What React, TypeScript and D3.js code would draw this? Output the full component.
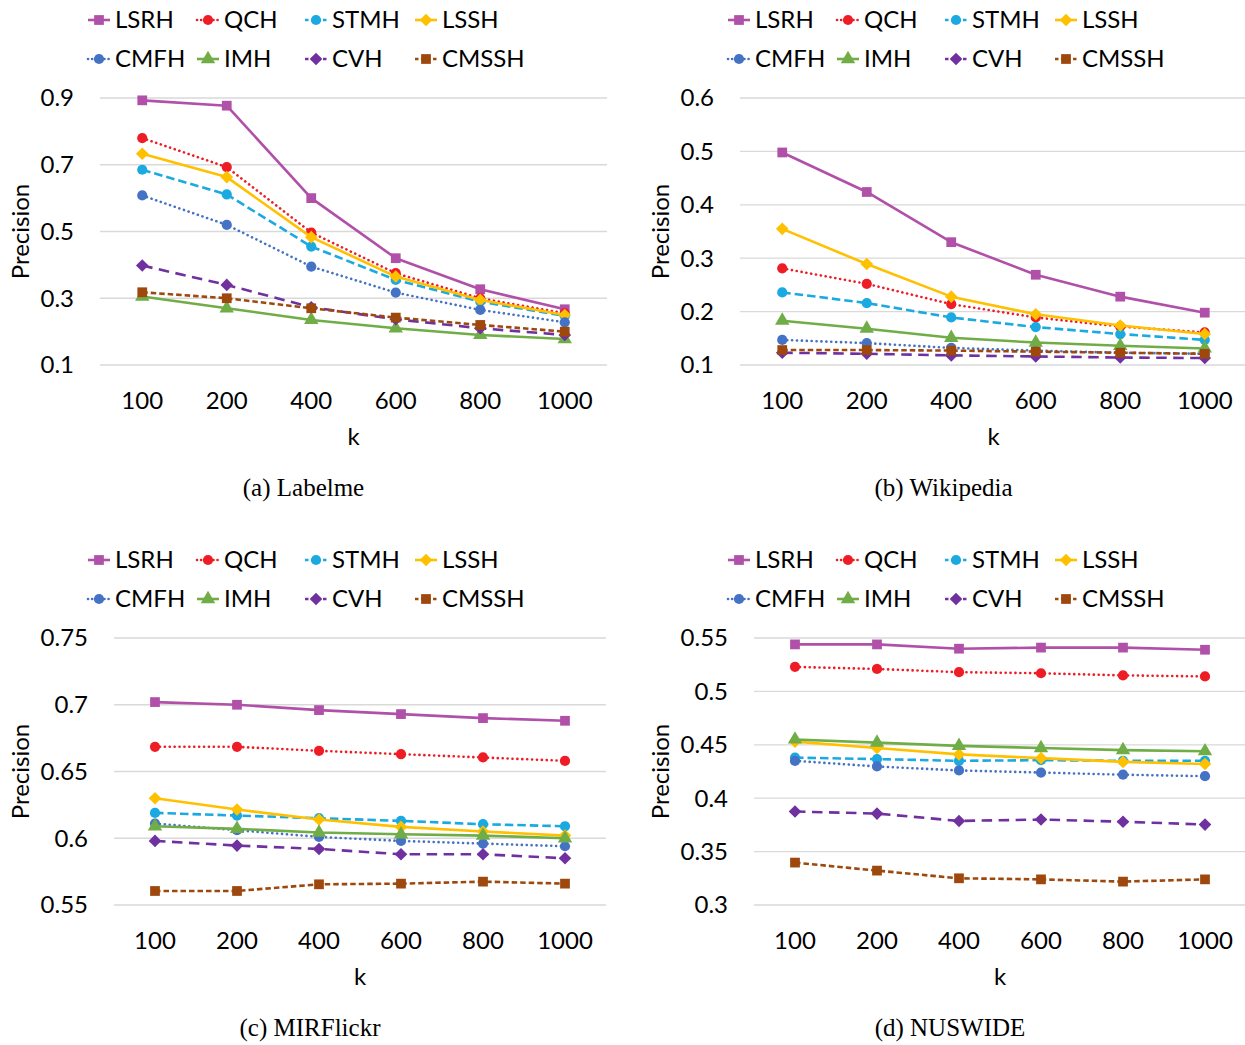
import React from "react";
import * as d3 from "d3";

const kLabels = ["100", "200", "400", "600", "800", "1000"];
const methods = ["LSRH", "QCH", "STMH", "LSSH", "CMFH", "IMH", "CVH", "CMSSH"];

const labelme: Record<string, number[]> = {
  LSRH: [0.893, 0.877, 0.6, 0.42, 0.327, 0.267],
  QCH: [0.78, 0.693, 0.497, 0.375, 0.3, 0.255],
  STMH: [0.685, 0.611, 0.455, 0.355, 0.29, 0.247],
  LSSH: [0.733, 0.663, 0.483, 0.365, 0.295, 0.25],
  CMFH: [0.608, 0.52, 0.395, 0.317, 0.265, 0.228],
  IMH: [0.305, 0.27, 0.235, 0.21, 0.19, 0.178],
  CVH: [0.398, 0.34, 0.273, 0.237, 0.21, 0.19],
  CMSSH: [0.318, 0.3, 0.27, 0.242, 0.22, 0.2],
};

const wikipedia: Record<string, number[]> = {
  LSRH: [0.498, 0.424, 0.33, 0.269, 0.228, 0.198],
  QCH: [0.281, 0.252, 0.214, 0.189, 0.172, 0.161],
  STMH: [0.236, 0.216, 0.189, 0.171, 0.158, 0.147],
  LSSH: [0.355, 0.289, 0.228, 0.195, 0.174, 0.158],
  CMFH: [0.147, 0.141, 0.132, 0.127, 0.123, 0.121],
  IMH: [0.183, 0.168, 0.151, 0.142, 0.136, 0.131],
  CVH: [0.123, 0.121, 0.118, 0.116, 0.114, 0.113],
  CMSSH: [0.128, 0.128, 0.127, 0.125, 0.123, 0.121],
};

const mirflickr: Record<string, number[]> = {
  LSRH: [0.702, 0.7, 0.696, 0.693, 0.69, 0.688],
  QCH: [0.6685, 0.6685, 0.6655, 0.663, 0.6605, 0.658],
  STMH: [0.619, 0.617, 0.615, 0.613, 0.6105, 0.609],
  LSSH: [0.63, 0.6215, 0.614, 0.6085, 0.605, 0.602],
  CMFH: [0.611, 0.606, 0.601, 0.598, 0.596, 0.594],
  IMH: [0.609, 0.607, 0.6043, 0.603, 0.602, 0.6],
  CVH: [0.598, 0.5945, 0.592, 0.588, 0.588, 0.585],
  CMSSH: [0.5605, 0.5605, 0.5655, 0.566, 0.5675, 0.566],
};

const nuswide: Record<string, number[]> = {
  LSRH: [0.544, 0.544, 0.54, 0.541, 0.541, 0.539],
  QCH: [0.523, 0.521, 0.518, 0.517, 0.515, 0.514],
  STMH: [0.438, 0.4366, 0.435, 0.4356, 0.435, 0.435],
  LSSH: [0.453, 0.447, 0.441, 0.4375, 0.434, 0.432],
  CMFH: [0.435, 0.4297, 0.426, 0.424, 0.422, 0.4206],
  IMH: [0.455, 0.452, 0.449, 0.447, 0.445, 0.444],
  CVH: [0.3875, 0.3856, 0.3787, 0.38, 0.378, 0.3753],
  CMSSH: [0.3397, 0.3322, 0.325, 0.324, 0.3219, 0.324],
};

const labelmeTicks = [0.1, 0.3, 0.5, 0.7, 0.9];
const wikipediaTicks = [0.1, 0.2, 0.3, 0.4, 0.5, 0.6];
const mirflickrTicks = [0.55, 0.6, 0.65, 0.7, 0.75];
const nuswideTicks = [0.3, 0.35, 0.4, 0.45, 0.5, 0.55];

type Style = { color: string; dash: string | null; cap: "round" | "butt"; marker: string };
const styles: Record<string, Style> = {
  LSRH: { color: "#B050A8", dash: null, cap: "butt", marker: "square" },
  QCH: { color: "#EE1C25", dash: "0.1 4.8", cap: "round", marker: "circle" },
  STMH: { color: "#1BA9E1", dash: "8.5 4", cap: "butt", marker: "circle" },
  LSSH: { color: "#FFC000", dash: null, cap: "butt", marker: "diamond" },
  CMFH: { color: "#4472C4", dash: "0.1 4.8", cap: "round", marker: "circle" },
  IMH: { color: "#70AD47", dash: null, cap: "butt", marker: "triangle" },
  CVH: { color: "#7030A0", dash: "10.5 6.5", cap: "butt", marker: "diamond" },
  CMSSH: { color: "#9E480E", dash: "5.5 3", cap: "butt", marker: "square" },
};

const FONT = "Lato, 'Liberation Sans', sans-serif";

function markerPath(kind: string): string {
  if (kind === "square") return d3.symbol(d3.symbolSquare, 95)() as string;
  if (kind === "circle") return d3.symbol(d3.symbolCircle, 82)() as string;
  if (kind === "triangle") return d3.symbol(d3.symbolTriangle, 90)() as string;
  const r = 6.3;
  return `M0,${-r}L${r},0L0,${r}L${-r},0Z`;
}

type PanelProps = {
  data: Record<string, number[]>;
  ticks: number[];
  ox: number;
  oy: number;
  plotL: number;
  plotR: number;
  yTop: number;
  yBot: number;
  caption: string;
};

function Panel(p: PanelProps) {
  const x = d3.scaleBand<string>().domain(kLabels).range([p.plotL, p.plotR]);
  const y = d3
    .scaleLinear()
    .domain([p.ticks[0], p.ticks[p.ticks.length - 1]])
    .range([p.yBot, p.yTop]);
  const cx = (k: string) => (x(k) as number) + x.bandwidth() / 2;
  const line = d3
    .line<number>()
    .x((_, i) => cx(kLabels[i]))
    .y((v) => y(v));
  const fmt = (v: number) => String(+v.toFixed(2));
  const legendX = [88, 197, 305, 415];
  const legendY = [p.oy + 20, p.oy + 59];
  const midX = (p.plotL + p.plotR) / 2;
  return (
    <g>
      {p.ticks.map((t) => (
        <line key={"g" + t} x1={p.plotL} x2={p.plotR} y1={y(t)} y2={y(t)} stroke="#D9D9D9" strokeWidth={1.3} />
      ))}
      {p.ticks.map((t) => (
        <text key={"t" + t} x={p.plotL - 26} y={y(t)} dy="0.35em" textAnchor="end" fontFamily={FONT} fontSize={24} fill="#000">
          {fmt(t)}
        </text>
      ))}
      {kLabels.map((k) => (
        <text key={"x" + k} x={cx(k)} y={p.yBot + 36} dy="0.35em" textAnchor="middle" fontFamily={FONT} fontSize={24} fill="#000">
          {k}
        </text>
      ))}
      <text x={midX} y={p.yBot + 72} dy="0.35em" textAnchor="middle" fontFamily={FONT} fontSize={24}>
        k
      </text>
      <text
        transform={`translate(${p.ox + 21},${(p.yTop + p.yBot) / 2}) rotate(-90)`}
        dy="0.35em"
        textAnchor="middle"
        fontFamily={FONT}
        fontSize={24}
      >
        Precision
      </text>
      <text x={midX - 50} y={p.yBot + 131} textAnchor="middle" fontFamily="'Liberation Serif', 'Times New Roman', serif" fontSize={25}>
        {p.caption}
      </text>
      {methods.map((m) => {
        const s = styles[m];
        const vals = p.data[m];
        return (
          <g key={m}>
            <path
              d={line(vals) as string}
              fill="none"
              stroke={s.color}
              strokeWidth={2.6}
              strokeDasharray={s.dash ?? undefined}
              strokeLinecap={s.cap}
              strokeLinejoin="round"
            />
            {vals.map((v, i) => (
              <path key={i} d={markerPath(s.marker)} transform={`translate(${cx(kLabels[i])},${y(v)})`} fill={s.color} />
            ))}
          </g>
        );
      })}
      {methods.map((m, i) => {
        const s = styles[m];
        const lx = p.ox + legendX[i % 4];
        const ly = legendY[Math.floor(i / 4)];
        return (
          <g key={"l" + m}>
            <line
              x1={lx}
              x2={lx + 22}
              y1={ly}
              y2={ly}
              stroke={s.color}
              strokeWidth={2.6}
              strokeDasharray={s.dash ? (s.cap === "round" ? "0.1 4" : "3.5 2.5") : undefined}
              strokeLinecap={s.cap}
            />
            <path d={markerPath(s.marker)} transform={`translate(${lx + 11},${ly})`} fill={s.color} />
            <text x={lx + 27} y={ly} dy="0.35em" fontFamily={FONT} fontSize={24}>
              {m}
            </text>
          </g>
        );
      })}
    </g>
  );
}

export default function App() {
  return (
    <svg
      width={1245}
      height={1045}
      style={{ position: "absolute", left: 0, top: 0, background: "#fff" }}
    >
      <rect width={1245} height={1045} fill="#fff" />
      <Panel data={labelme} ticks={labelmeTicks} ox={0} oy={0} plotL={100} plotR={607} yTop={98} yBot={365} caption="(a) Labelme" />
      <Panel data={wikipedia} ticks={wikipediaTicks} ox={640} oy={0} plotL={740} plotR={1247} yTop={98} yBot={365} caption="(b) Wikipedia" />
      <Panel data={mirflickr} ticks={mirflickrTicks} ox={0} oy={540} plotL={114} plotR={606} yTop={638} yBot={905} caption="(c) MIRFlickr" />
      <Panel data={nuswide} ticks={nuswideTicks} ox={640} oy={540} plotL={754} plotR={1246} yTop={638} yBot={905} caption="(d) NUSWIDE" />
    </svg>
  );
}
